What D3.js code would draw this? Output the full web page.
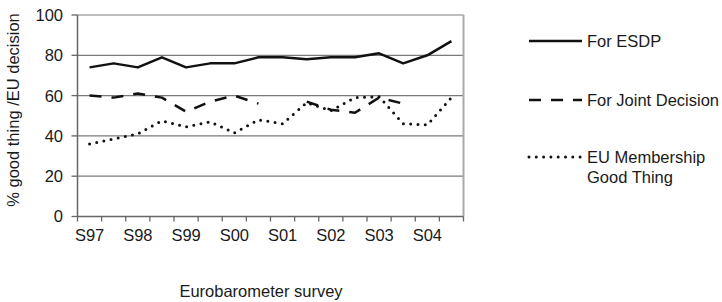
<!DOCTYPE html>
<html lang="en">
<head>
  <meta charset="UTF-8">
  <title>ESDP support</title>
  <script src="https://d3js.org/d3.v7.min.js"></script>
  <style>
    body { margin: 0; background: #fff; }
    svg { display: block; }
    text { font-family: "Liberation Sans", Arial, sans-serif; font-size: 16.5px; fill: #1a1a1a; }
  </style>
</head>
<body>
  <svg id="chart"></svg>

  <script>
    // survey waves (spring / autumn)
    const waves = ["S97", "A97", "S98", "A98", "S99", "A99", "S00", "A00",
                   "S01", "A01", "S02", "A02", "S03", "A03", "S04", "A04"];
    const tickLabels = ["S97", "S98", "S99", "S00", "S01", "S02", "S03", "S04"];
    const yTicks = [0, 20, 40, 60, 80, 100];

    const forESDP = [74, 76, 74, 79, 74, 76, 76, 79, 79, 78, 79, 79, 81, 76, 80, 87];
    const forJoint = [60, 59, 61, 59, 52, 57, 60, 56, null, 57, 53, 51.5, 59, 56, null, null];
    const membership = [36, 38.5, 41, 47.5, 44.5, 47, 41.5, 48, 46, 56.5, 52.5, 59, 59.5, 46, 45.5, 59];

    const series = [
      { name: ["For ESDP"], values: forESDP, dash: null, cap: "butt", width: 2.5, ly: 41 },
      { name: ["For Joint Decision"], values: forJoint, dash: "12,10", cap: "butt", width: 2.5, ly: 100 },
      { name: ["EU Membership", "Good Thing"], values: membership, dash: "0,7.3", cap: "round", width: 3, ly: 157 }
    ];

    const svg = d3.select("#chart").attr("width", 722).attr("height", 302);

    const plot = { left: 77.5, right: 463.5, top: 15, bottom: 216.5 };

    const x = d3.scaleBand().domain(waves).range([plot.left, plot.right]);
    const y = d3.scaleLinear().domain([0, 100]).range([plot.bottom, plot.top]);

    // gridlines
    svg.append("g")
      .selectAll("line")
      .data(yTicks.filter(d => d > 0))
      .enter().append("line")
      .attr("x1", plot.left).attr("x2", plot.right)
      .attr("y1", d => y(d)).attr("y2", d => y(d))
      .style("stroke", d => d === 100 ? "#a8a8a8" : "#7a7a7a")
      .style("stroke-width", 1.3);

    // right border
    svg.append("line")
      .attr("x1", plot.right).attr("x2", plot.right)
      .attr("y1", plot.top).attr("y2", plot.bottom)
      .style("stroke", "#a8a8a8").style("stroke-width", 2);

    // y axis
    const yAxis = svg.append("g");
    yAxis.append("line")
      .attr("x1", plot.left).attr("x2", plot.left).attr("y1", plot.top).attr("y2", plot.bottom)
      .style("stroke", "#666").style("stroke-width", 1.5);
    yAxis.selectAll(".tick")
      .data(yTicks)
      .enter().append("line")
      .attr("x1", plot.left - 6).attr("x2", plot.left)
      .attr("y1", d => y(d)).attr("y2", d => y(d))
      .style("stroke", "#666").style("stroke-width", 1.3);
    yAxis.selectAll("text")
      .data(yTicks)
      .enter().append("text")
      .attr("x", 63).attr("y", d => y(d))
      .attr("dy", "0.36em")
      .attr("text-anchor", "end")
      .text(d => d);

    // x axis
    const xAxis = svg.append("g");
    xAxis.append("line")
      .attr("x1", plot.left).attr("x2", plot.right).attr("y1", plot.bottom).attr("y2", plot.bottom)
      .style("stroke", "#666").style("stroke-width", 1.5);
    const edges = waves.map(w => x(w)).concat([plot.right]);
    xAxis.selectAll(".tick")
      .data(edges)
      .enter().append("line")
      .attr("x1", d => d).attr("x2", d => d)
      .attr("y1", plot.bottom).attr("y2", plot.bottom + 5)
      .style("stroke", "#666").style("stroke-width", 1.3);
    xAxis.selectAll("text")
      .data(tickLabels)
      .enter().append("text")
      .attr("x", d => x(d) + x.bandwidth() / 2)
      .attr("y", 241)
      .attr("text-anchor", "middle")
      .text(d => d);

    // lines
    const line = d3.line()
      .defined(d => d.v != null)
      .x(d => x(d.w) + x.bandwidth() / 2)
      .y(d => y(d.v));

    svg.append("g")
      .selectAll("path")
      .data(series)
      .enter().append("path")
      .attr("d", s => line(waves.map((w, i) => ({ w: w, v: s.values[i] }))))
      .style("fill", "none")
      .style("stroke", "#111")
      .style("stroke-width", s => s.width)
      .style("stroke-linecap", s => s.cap)
      .style("stroke-linejoin", "round")
      .style("stroke-dasharray", s => s.dash);

    // legend
    const legend = svg.append("g")
      .selectAll("g")
      .data(series)
      .enter().append("g");

    legend.append("line")
      .attr("x1", 529).attr("x2", 582)
      .attr("y1", s => s.ly).attr("y2", s => s.ly)
      .style("stroke", "#111")
      .style("stroke-width", s => s.width)
      .style("stroke-linecap", s => s.cap)
      .style("stroke-dasharray", s => s.dash);

    legend.each(function(s) {
      d3.select(this).selectAll("text")
        .data(s.name)
        .enter().append("text")
        .attr("x", 587)
        .attr("y", (d, i) => s.ly + 6 + i * 20)
        .text(d => d);
    });

    // axis titles
    svg.append("text")
      .attr("transform", "translate(19,110) rotate(-90)")
      .attr("text-anchor", "middle")
      .text("% good thing /EU decision");

    svg.append("text")
      .attr("x", 261).attr("y", 297)
      .attr("text-anchor", "middle")
      .text("Eurobarometer survey");
  </script>
</body>
</html>
